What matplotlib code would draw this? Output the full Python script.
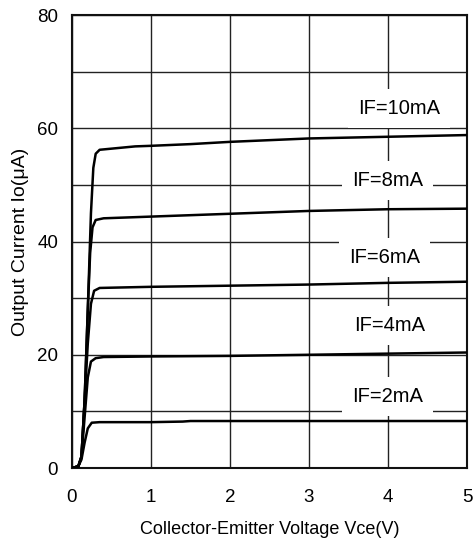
import matplotlib
matplotlib.use("Agg")
import matplotlib.pyplot as plt

plt.rcParams['font.family'] = ['Liberation Sans', 'DejaVu Sans']

# Output characteristics: collector-emitter voltage (V) vs output current (uA)
vce_10 = [0, 0.08, 0.12, 0.16, 0.20, 0.24, 0.27, 0.30, 0.35, 0.5, 0.8, 1.0, 1.5, 2.0, 3.0, 4.0, 5.0]
io_10 = [0, 0.3, 2, 12, 28, 45, 53, 55.5, 56.2, 56.4, 56.8, 56.9, 57.2, 57.6, 58.2, 58.5, 58.8]

vce_8 = [0, 0.08, 0.12, 0.16, 0.20, 0.23, 0.26, 0.30, 0.40, 1.0, 2.0, 3.0, 4.0, 5.0]
io_8 = [0, 0.3, 2, 12, 28, 38, 42.5, 43.8, 44.1, 44.4, 44.9, 45.4, 45.7, 45.8]

vce_6 = [0, 0.08, 0.12, 0.16, 0.20, 0.24, 0.28, 0.35, 1.0, 2.0, 3.0, 4.0, 5.0]
io_6 = [0, 0.3, 2, 12, 22, 29, 31.3, 31.8, 32.0, 32.2, 32.4, 32.7, 32.9]

vce_4 = [0, 0.08, 0.12, 0.16, 0.20, 0.24, 0.30, 0.40, 1.0, 2.0, 3.0, 4.0, 5.0]
io_4 = [0, 0.3, 2, 9, 16, 18.8, 19.4, 19.6, 19.7, 19.8, 20.0, 20.2, 20.4]

vce_2 = [0, 0.08, 0.12, 0.16, 0.20, 0.25, 0.35, 1.0, 1.4, 1.5, 5.0]
io_2 = [0, 0.3, 1.5, 4.5, 7.0, 8.0, 8.1, 8.1, 8.2, 8.3, 8.3]

curve_labels = ["IF=10mA", "IF=8mA", "IF=6mA", "IF=4mA", "IF=2mA"]
label_pos = [(4.14, 63.5), (3.99, 50.8), (3.96, 37.2), (4.02, 25.1), (3.99, 12.7)]

x_ticks = [0, 1, 2, 3, 4, 5]
y_ticks = [0, 20, 40, 60, 80]

fig = plt.figure(figsize=(4.73, 5.40), dpi=100)
ax = fig.add_axes([0.1522, 0.1333, 0.8351, 0.8389])

for xs, ys in [(vce_10, io_10), (vce_8, io_8), (vce_6, io_6), (vce_4, io_4), (vce_2, io_2)]:
    ax.plot(xs, ys, color='black', lw=1.8, zorder=3, solid_capstyle='round')

for text, (tx, ty) in zip(curve_labels, label_pos):
    ax.text(tx, ty, text, ha='center', va='center', fontsize=14.5, zorder=4,
            bbox=dict(boxstyle='square,pad=0.5', fc='white', ec='none'))

ax.set_xlim(0, 5)
ax.set_ylim(0, 80)
ax.set_xticks(x_ticks)
ax.set_yticks(y_ticks)
ax.set_yticks([10, 30, 50, 70], minor=True)
ax.grid(True, which='both', color='#222222', lw=1.0, zorder=1)
ax.set_axisbelow(True)
ax.tick_params(which='both', length=0, labelsize=13.5)
ax.tick_params(axis='x', pad=15)
ax.tick_params(axis='y', pad=10)
for sp in ax.spines.values():
    sp.set_linewidth(1.5)
    sp.set_color('#111111')

ax.set_xlabel("Collector-Emitter Voltage Vce(V)", fontsize=13, labelpad=11)
ax.set_ylabel("Output Current Io(μA)", fontsize=14, labelpad=6)

fig.savefig("out.png", dpi=100)
